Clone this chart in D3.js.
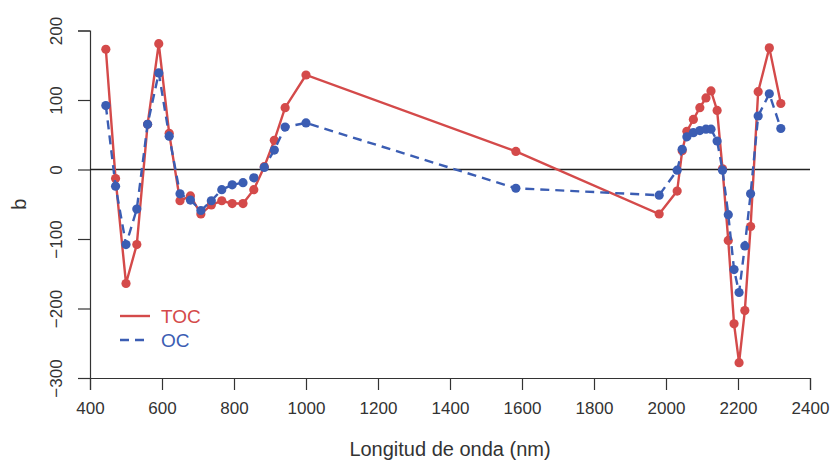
<!DOCTYPE html>
<html>
<head>
<meta charset="utf-8">
<script src="https://cdn.jsdelivr.net/npm/d3@7"></script>
<style>
	body { margin: 0; background: #fff; }
	svg text { font-family: "Liberation Sans", Arial, sans-serif; fill: #333; }
</style>
</head>
<body>
<div id="graphic"></div>
<script>

// wavelengths (nm) and coefficients
var wavelength = [444, 471, 500, 530, 560, 591, 620, 650, 679, 708, 737, 766, 795, 825, 855, 884, 912, 942, 1000,
	1583,
	1981, 2031, 2045, 2058, 2076, 2094, 2111, 2125, 2142, 2157, 2173, 2189, 2203, 2219, 2235, 2256, 2287, 2319];

var toc = [173, -13, -164, -108, 65, 181, 52, -45, -38, -64, -51, -45, -49, -49, -29, 4, 42, 89, 136,
	26,
	-64, -31, 27, 55, 72, 89, 103, 113, 85, 1, -102, -222, -278, -203, -82, 112, 175, 95];

var oc = [92, -24, -108, -57, 65, 139, 48, -35, -44, -59, -45, -29, -22, -19, -12, 3, 28, 61, 67,
	-27,
	-37, -1, 29, 47, 53, 56, 58, 58, 41, -1, -65, -144, -177, -110, -35, 77, 109, 59];

var xTicks = [400, 600, 800, 1000, 1200, 1400, 1600, 1800, 2000, 2200, 2400];
var yTicks = [-300, -200, -100, 0, 100, 200];

var seriesNames = ['TOC', 'OC'];

renderGraphic();

function renderGraphic() {

	var width = 830, height = 465;
	var left = 90, right = 810, top = 30.5, bottom = 378;

	var red = '#d44a4a', blue = '#3b5db3';

	var svg = d3.select('#graphic').append('svg')
		.attr('width', width)
		.attr('height', height);

	var x = d3.scaleLinear().domain([400, 2400]).range([left, right]);
	var y = d3.scaleLinear().domain([-300, 200]).range([bottom, top]);

	// axes, R style (no box)
	var xAxis = svg.append('g')
		.attr('transform', 'translate(0,' + bottom + ')')
		.call(d3.axisBottom(x).tickValues(xTicks).tickSize(12).tickPadding(12).tickFormat(d3.format('d')));

	var yAxis = svg.append('g')
		.attr('transform', 'translate(' + left + ',0)')
		.call(d3.axisLeft(y).tickValues(yTicks).tickSize(12).tickFormat(function(d) {
			return d < 0 ? '\u2212' + Math.abs(d) : d;
		}));

	[xAxis, yAxis].forEach(function(a) {
		a.select('.domain').attr('stroke', '#333').attr('stroke-width', 1.2);
		a.selectAll('.tick line').attr('stroke', '#333').attr('stroke-width', 1.2);
		a.selectAll('.tick text').style('font-size', '17px').attr('fill', '#333');
	});

	yAxis.selectAll('.tick text')
		.attr('x', null).attr('dy', null)
		.attr('text-anchor', 'middle')
		.attr('transform', 'translate(-28,0) rotate(-90)');

	// axis titles
	svg.append('text')
		.attr('x', (left + right) / 2)
		.attr('y', 456)
		.attr('text-anchor', 'middle')
		.style('font-size', '20px')
		.text('Longitud de onda (nm)');

	svg.append('text')
		.attr('transform', 'translate(26,' + ((top + bottom) / 2) + ') rotate(-90)')
		.attr('text-anchor', 'middle')
		.style('font-size', '20px')
		.text('b');

	// zero line
	svg.append('line')
		.attr('x1', left).attr('x2', right)
		.attr('y1', y(0)).attr('y2', y(0))
		.attr('stroke', '#222').attr('stroke-width', 1.3);

	var line = d3.line()
		.x(function(d) { return x(d[0]); })
		.y(function(d) { return y(d[1]); });

	var tocPts = wavelength.map(function(w, i) { return [w, toc[i]]; });
	var ocPts = wavelength.map(function(w, i) { return [w, oc[i]]; });

	function drawSeries(pts, color, dash) {
		var g = svg.append('g');
		g.append('path')
			.attr('d', line(pts))
			.attr('fill', 'none')
			.attr('stroke', color)
			.attr('stroke-width', 2.4)
			.attr('stroke-dasharray', dash);
		g.selectAll('circle')
			.data(pts).enter()
			.append('circle')
			.attr('cx', function(d) { return x(d[0]); })
			.attr('cy', function(d) { return y(d[1]); })
			.attr('r', 4.6)
			.attr('fill', color);
	}

	drawSeries(tocPts, red, null);
	drawSeries(ocPts, blue, '9,6');

	// legend
	var legend = svg.append('g');
	var items = [[red, null], [blue, '9,6']];
	seriesNames.forEach(function(name, i) {
		var ly = 316 + i * 24;
		legend.append('line')
			.attr('x1', 120).attr('x2', 150)
			.attr('y1', ly).attr('y2', ly)
			.attr('stroke', items[i][0])
			.attr('stroke-width', 2.4)
			.attr('stroke-dasharray', items[i][1]);
		legend.append('text')
			.attr('x', 161).attr('y', ly + 7)
			.style('font-size', '19px')
			.style('fill', items[i][0])
			.text(name);
	});
}

</script>
</body>
</html>
